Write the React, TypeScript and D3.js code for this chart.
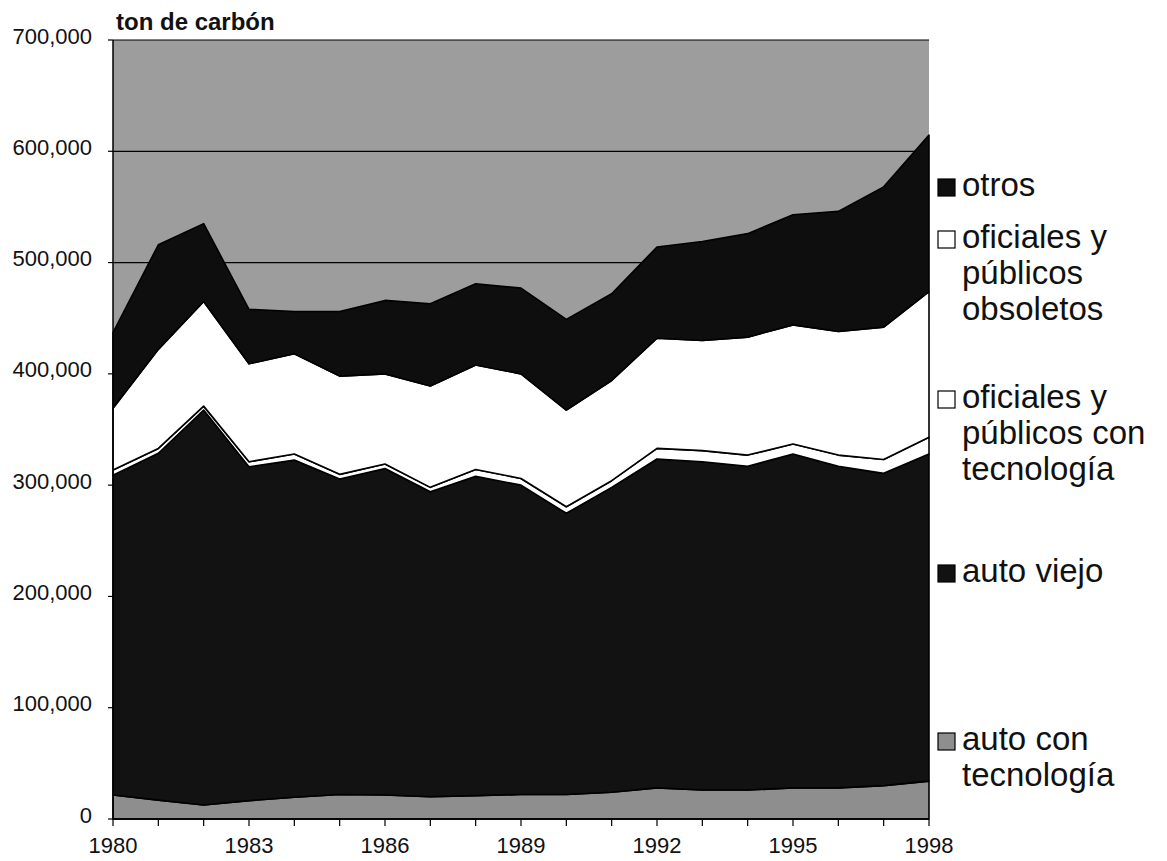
import React, { useEffect } from 'react';
import * as d3 from 'd3';

// values (ton de carbón)
const years = [1980, 1981, 1982, 1983, 1984, 1985, 1986, 1987, 1988, 1989, 1990, 1991, 1992, 1993, 1994, 1995, 1996, 1997, 1998];
const autoConTecnologia = [21500, 17000, 12600, 16500, 19500, 22000, 21500, 20000, 21000, 22000, 22000, 24000, 28000, 26000, 26000, 28000, 28000, 30000, 34000];
const autoViejo = [287500, 311600, 354900, 300000, 303000, 283500, 293500, 274000, 287000, 278000, 252700, 274000, 295500, 295000, 291000, 300000, 289000, 280600, 294000];
const oficialesConTecnologia = [4600, 4400, 3500, 4500, 5500, 4200, 4000, 4000, 6000, 6000, 5900, 6000, 9500, 10000, 10000, 9000, 10000, 12400, 15000];
const oficialesObsoletos = [55400, 89000, 94000, 88000, 90000, 88300, 81000, 91000, 94000, 94000, 86900, 90000, 99000, 99000, 106000, 107000, 111000, 119000, 131000];
const otros = [68000, 94000, 70000, 49000, 38000, 58000, 66000, 74000, 73000, 77000, 81500, 78000, 82000, 89000, 93000, 99000, 108000, 126000, 140500];

const yTicks = [0, 100000, 200000, 300000, 400000, 500000, 600000, 700000];
const xLabelYears = [1980, 1983, 1986, 1989, 1992, 1995, 1998];

const seriesKeys = ['autoConTecnologia', 'autoViejo', 'oficialesConTecnologia', 'oficialesObsoletos', 'otros'];
const seriesFill: Record<string, string> = {
  autoConTecnologia: '#8e8e8e',
  autoViejo: '#121212',
  oficialesConTecnologia: '#ffffff',
  oficialesObsoletos: '#ffffff',
  otros: '#0e0e0e',
};

const legendItems = [
  { key: 'otros', lines: ['otros'] },
  { key: 'oficialesObsoletos', lines: ['oficiales y', 'públicos', 'obsoletos'] },
  { key: 'oficialesConTecnologia', lines: ['oficiales y', 'públicos con', 'tecnología'] },
  { key: 'autoViejo', lines: ['auto viejo'] },
  { key: 'autoConTecnologia', lines: ['auto con', 'tecnología'] },
];
const legendBaselines = [196, 248, 408, 582, 750];

const FONT = "'Liberation Sans', Arial, sans-serif";

export default function App() {
  useEffect(() => {
    document.body.style.margin = '0';
  }, []);

  const width = 1167;
  const height = 861;
  const left = 113;
  const right = 929;
  const top = 40;
  const bottom = 819;

  const x = d3.scaleLinear().domain([1980, 1998]).range([left, right]);
  const y = d3.scaleLinear().domain([0, 700000]).range([bottom, top]);

  const table = years.map((yr, i) => ({
    year: yr,
    autoConTecnologia: autoConTecnologia[i],
    autoViejo: autoViejo[i],
    oficialesConTecnologia: oficialesConTecnologia[i],
    oficialesObsoletos: oficialesObsoletos[i],
    otros: otros[i],
  }));

  const stacked = d3.stack<any>().keys(seriesKeys)(table);

  const area = d3.area<any>()
    .x(d => x(d.data.year))
    .y0(d => y(d[0]))
    .y1(d => y(d[1]));

  const fmt = d3.format(',');

  return (
    <svg width={width} height={height} style={{ display: 'block', background: '#fff' }}>
      {/* plot area background */}
      <rect x={left} y={top} width={right - left} height={bottom - top} fill="#9d9d9d" />

      {/* horizontal gridlines */}
      {yTicks.map(t => (
        <line key={'g' + t} x1={left} x2={right} y1={y(t)} y2={y(t)} stroke="#000" strokeWidth={1.2} />
      ))}

      {/* stacked areas */}
      {stacked.map(s => (
        <path
          key={s.key}
          d={area(s) || ''}
          fill={seriesFill[s.key]}
          stroke="#000"
          strokeWidth={1.6}
          strokeLinejoin="round"
        />
      ))}

      {/* y axis */}
      <line x1={left} x2={left} y1={top} y2={bottom} stroke="#000" strokeWidth={1.5} />
      {yTicks.map(t => (
        <g key={'y' + t}>
          <line x1={left - 5} x2={left} y1={y(t)} y2={y(t)} stroke="#000" strokeWidth={1.2} />
          <text x={92} y={y(t) + 3.5} textAnchor="end" fontFamily={FONT} fontSize={22} fill="#111">
            {fmt(t)}
          </text>
        </g>
      ))}

      {/* x axis */}
      <line x1={left} x2={right} y1={bottom} y2={bottom} stroke="#000" strokeWidth={1.5} />
      {years.map(yr => (
        <line key={'xt' + yr} x1={x(yr)} x2={x(yr)} y1={bottom} y2={bottom + 7} stroke="#000" strokeWidth={1.2} />
      ))}
      {xLabelYears.map(yr => (
        <text key={'xl' + yr} x={x(yr)} y={853} textAnchor="middle" fontFamily={FONT} fontSize={22} fill="#111">
          {yr}
        </text>
      ))}

      {/* title */}
      <text x={116} y={30} fontFamily={FONT} fontSize={24} fontWeight="bold" fill="#111">
        ton de carbón
      </text>

      {/* legend */}
      {legendItems.map((item, i) => {
        const base = legendBaselines[i];
        return (
          <g key={'lg' + item.key}>
            <rect
              x={938}
              y={base - 17}
              width={17}
              height={17}
              fill={seriesFill[item.key]}
              stroke="#000"
              strokeWidth={1.2}
            />
            {item.lines.map((ln, j) => (
              <text key={j} x={962} y={base + j * 36} fontFamily={FONT} fontSize={33} fill="#111">
                {ln}
              </text>
            ))}
          </g>
        );
      })}
    </svg>
  );
}
